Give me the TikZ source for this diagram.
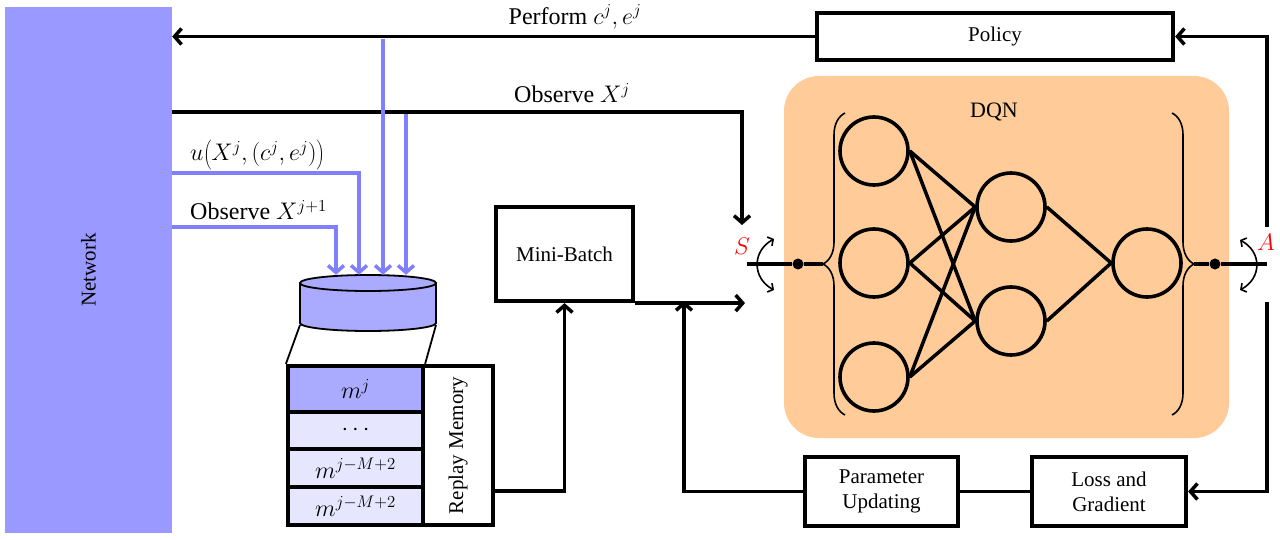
\documentclass[tikz,border=0pt]{standalone}
\usepackage{fix-cm}
\usepackage{fontspec}
\setmainfont{Liberation Serif}
\usetikzlibrary{arrows.meta,decorations.pathreplacing,calc}
\definecolor{netblue}{RGB}{153,153,255}
\definecolor{lineblue}{RGB}{128,128,255}
\definecolor{cylblue}{RGB}{170,170,255}
\definecolor{rowlight}{RGB}{230,230,255}
\definecolor{peach}{RGB}{255,204,153}
\tikzset{
  boxnode/.style={draw, line width=4.2pt, inner sep=0pt, align=center, font=\fontsize{21}{25}\selectfont},
  arr/.style={line width=3.5pt, -{Straight Barb[length=7pt,width=16pt]}},
  plainline/.style={line width=3.5pt},
  barr/.style={line width=3.5pt, draw=lineblue, -{Straight Barb[length=7pt,width=16pt]}},
  neuron/.style={draw, circle, line width=3.6pt, minimum size=68pt, inner sep=0pt},
  lbl/.style={inner sep=0pt, font=\fontsize{24}{28}\selectfont},
  rowbox/.style={draw, line width=4.2pt, minimum width=135pt, inner sep=0pt, font=\fontsize{24}{28}\selectfont},
  dotnode/.style={circle, fill, minimum size=11pt, inner sep=0pt},
  swing/.style={line width=1.6pt, {Straight Barb[length=4pt,width=10pt]}-{Straight Barb[length=4pt,width=10pt]}},
  bracestyle/.style={line width=1.6pt, decorate, decoration={brace, amplitude=22pt}}
}
\begin{document}
\begin{tikzpicture}[x=1pt,y=-1pt]
\useasboundingbox (0,0) rectangle (1280,540);

% Network
\node[fill=netblue, minimum width=167pt, minimum height=526pt, inner sep=0pt] (net) at (88.5,270) {};
\node[rotate=90, font=\fontsize{21}{25}\selectfont] at (net.center) {Network};

% DQN background
\node[fill=peach, rounded corners=35pt, minimum width=445pt, minimum height=362pt, inner sep=0pt] (dqn) at (1006.5,257) {};
\node[font=\fontsize{22}{26}\selectfont] at (994,112) {DQN};

% boxes
\node[boxnode, minimum width=356pt, minimum height=47pt] (policy) at (995,36.5) {Policy};
\node[boxnode, minimum width=137pt, minimum height=94pt] (mb) at (564.5,254) {Mini-Batch};
\node[boxnode, minimum width=153pt, minimum height=69pt] (pu) at (881.5,491.5) {Parameter\\Updating};
\node[boxnode, minimum width=154pt, minimum height=69pt] (lg) at (1109,491.5) {Loss and\\Gradient};

% neurons
\node[neuron] (a1) at (874,151) {};
\node[neuron] (a2) at (874,263) {};
\node[neuron] (a3) at (874,377) {};
\node[neuron] (b1) at (1011,207) {};
\node[neuron] (b2) at (1011,321) {};
\node[neuron] (c1) at (1147,263) {};
\foreach \s in {a1,a2,a3}{
  \foreach \t in {b1,b2}{
    \draw[plainline] (\s.east) -- (\t.west);
  }
}
\draw[plainline] (b1.east) -- (c1.west);
\draw[plainline] (b2.east) -- (c1.west);

% braces
\draw[bracestyle] (845,415) -- (845,113);
\draw[bracestyle] (1172,113) -- (1172,415);
\coordinate (ltip) at (823,264);
\coordinate (rtip) at (1194,264);

% S and A
\coordinate (sstart) at (747,264);
\coordinate (aend) at (1267,264);
\node[dotnode] (sdot) at (798,264) {};
\node[dotnode] (adot) at (1215,264) {};
\draw[plainline] (sstart) -- (sdot) -- (ltip);
\draw[plainline] (rtip) -- (adot) -- (aend);
\node[lbl, text=red] at (742,246) {$S$};
\node[lbl, text=red] at (1266,242) {$A$};
\draw[swing] (774,239) .. controls (752,251) and (752,278) .. (774,290);
\draw[swing] (1240,240) .. controls (1262,252) and (1262,278) .. (1240,290);

% cylinder
\node[minimum width=136pt, minimum height=56pt, inner sep=0pt] (cyl) at (368,303) {};
\filldraw[fill=cylblue, line width=1.8pt] (300,283) -- (300,323) arc[start angle=180, end angle=360, x radius=68pt, y radius=8pt] -- (436,283) -- cycle;
\filldraw[fill=cylblue, line width=1.8pt] (368,283) ellipse[x radius=68pt, y radius=8pt];

% memory rows
\node[rowbox, fill=cylblue, minimum height=46pt] (r1) at (355.5,389) {$m^{j}$};
\node[rowbox, fill=rowlight, minimum height=37pt] (r2) at (355.5,430.5) {$\cdots$};
\node[rowbox, fill=rowlight, minimum height=38pt] (r3) at (355.5,468) {$m^{j-M+2}$};
\node[rowbox, fill=rowlight, minimum height=38pt] (r4) at (355.5,506) {$m^{j-M+2}$};
\node[boxnode, minimum width=70pt, minimum height=159pt] (rm) at (458,445.5) {};
\node[rotate=90, font=\fontsize{21}{25}\selectfont] at (rm.center) {Replay Memory};
\draw[line width=1.8pt] (300,325) -- (r1.north west);
\draw[line width=1.8pt] (436,325) -- (r1.north east);

% black connectors
\draw[arr] (policy.west) -- (policy.west -| net.east);
\node[lbl] at (575,17) {Perform $c^j, e^j$};
\coordinate (obsin) at (742,225);
\draw[arr] (net.east |- 0,112) -| (obsin);
\node[lbl] at (572,93) {Observe $X^j$};
\coordinate (dqnin) at (745,301);
\draw[arr] (mb.south east) -- (dqnin |- mb.south east);
\draw[arr] (rm.east |- 0,491) -| (mb.south);
\coordinate (puin) at (684,301);
\draw[arr] (pu.west) -| (puin);
\draw[plainline] (lg.west) -- (pu.east);
\coordinate (rtop) at (1267,227);
\coordinate (rbot) at (1267,302);
\draw[arr] (rtop) |- (policy.east);
\draw[arr] (rbot) |- (lg.east);

% blue connectors
\draw[barr] (net.east |- 0,173) -| (359,0 |- cyl.north);
\draw[barr] (net.east |- 0,227) -| (336,0 |- cyl.north);
\draw[barr] (383,39) -- (383,0 |- cyl.north);
\draw[barr] (406,114) -- (406,0 |- cyl.north);
\node[lbl, anchor=west] at (190,155) {$u\mathopen{}\left(\vrule height 18pt depth 7pt width 0pt X^j,(c^j,e^j)\right)$};
\node[lbl, anchor=west] at (190,210) {Observe $X^{j+1}$};
\end{tikzpicture}
\end{document}
